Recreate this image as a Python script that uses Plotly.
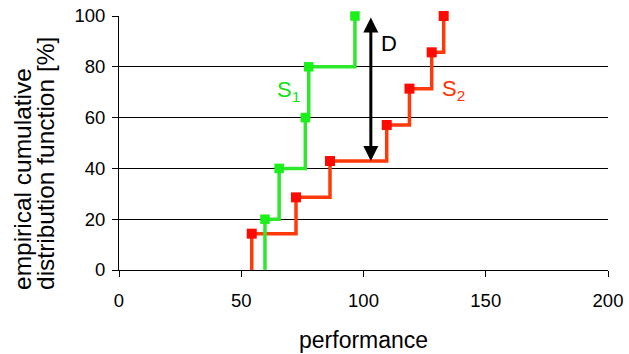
import plotly.graph_objects as go

# S1 sample (green)
s1_x = [59.7, 65.5, 76.2, 77.6, 96.5]
s1_f = [20, 40, 60, 80, 100]
# S2 sample (red)
s2_x = [54.3, 72.4, 86.3, 109.5, 118.8, 127.9, 132.8]
s2_f = [14.3, 28.6, 42.9, 57.1, 71.4, 85.7, 100]
# KS distance arrow
d_x = 103
d_top = 100
d_bottom = 42.9

x_ticks = [0, 50, 100, 150, 200]
y_ticks = [0, 20, 40, 60, 80, 100]

FONT = "Liberation Sans, Arial, sans-serif"
G_LINE = "#2EE82E"
G_MARK = "#1AF01A"
G_TEXT = "#11E011"
R_LINE = "#FF3A0A"
R_MARK = "#FF0A00"
R_TEXT = "#FF3300"

fig = go.Figure()

# step lines (ECDF), starting from 0
fig.add_trace(go.Scatter(x=[s2_x[0]] + s2_x, y=[0] + s2_f, mode="lines",
                         line=dict(color=R_LINE, width=3.5, shape="hv"),
                         showlegend=False, hoverinfo="skip", cliponaxis=False))
fig.add_trace(go.Scatter(x=[s1_x[0]] + s1_x, y=[0] + s1_f, mode="lines",
                         line=dict(color=G_LINE, width=3.5, shape="hv"),
                         showlegend=False, hoverinfo="skip", cliponaxis=False))
fig.add_trace(go.Scatter(x=s2_x, y=s2_f, mode="markers",
                         marker=dict(symbol="square", size=10, color=R_MARK),
                         showlegend=False, cliponaxis=False))
fig.add_trace(go.Scatter(x=s1_x, y=s1_f, mode="markers",
                         marker=dict(symbol="square", size=9.5, color=G_MARK),
                         showlegend=False, cliponaxis=False))

annotations = [
    # double-headed arrow D
    dict(x=d_x, y=d_bottom, ax=d_x, ay=d_top, xref="x", yref="y",
         axref="x", ayref="y", text="", showarrow=True, arrowhead=2,
         arrowside="end+start", arrowsize=1, arrowwidth=3, arrowcolor="black"),
    dict(x=106.3, y=89, xref="x", yref="y", text="D", showarrow=False,
         xanchor="left", yanchor="middle",
         font=dict(family=FONT, size=22, color="black")),
    dict(x=63.8, y=70.5, xref="x", yref="y", text="S<sub>1</sub>", showarrow=False,
         xanchor="left", yanchor="middle",
         font=dict(family=FONT, size=22, color=G_TEXT)),
    dict(x=131.3, y=71, xref="x", yref="y", text="S<sub>2</sub>", showarrow=False,
         xanchor="left", yanchor="middle",
         font=dict(family=FONT, size=22, color=R_TEXT)),
    # axis titles
    dict(x=0.5, y=0, xref="paper", yref="paper", yshift=-70, text="performance",
         showarrow=False, xanchor="center", yanchor="middle",
         font=dict(family=FONT, size=23, color="black")),
    dict(x=0, y=0, xref="paper", yref="paper", xshift=-97, yshift=-22,
         text="empirical cumulative", textangle=-90, showarrow=False,
         xanchor="center", yanchor="bottom",
         font=dict(family=FONT, size=24.5, color="black")),
    dict(x=0, y=0, xref="paper", yref="paper", xshift=-73.5, yshift=-22,
         text="distribution function [%]", textangle=-90, showarrow=False,
         xanchor="center", yanchor="bottom",
         font=dict(family=FONT, size=24.5, color="black")),
]

fig.update_layout(
    width=629, height=354,
    margin=dict(l=119, r=21, t=16, b=84, autoexpand=False),
    paper_bgcolor="white", plot_bgcolor="white",
    font=dict(family=FONT, size=18.5, color="black"),
    annotations=annotations,
    hovermode=False,
    xaxis=dict(range=[0, 200], tickvals=x_ticks, ticktext=[str(v) for v in x_ticks],
               showline=True, linecolor="black", linewidth=1, showgrid=False,
               zeroline=False, ticks="outside", ticklen=6, tickcolor="black",
               tickfont=dict(family=FONT, size=18.5, color="black"),
               ticklabelstandoff=8, automargin=False, ticklabeloverflow="allow"),
    yaxis=dict(range=[0, 100], tickvals=y_ticks, ticktext=[str(v) for v in y_ticks],
               showline=True, linecolor="black", linewidth=1, showgrid=True,
               gridcolor="black", gridwidth=1, zeroline=False, ticks="outside",
               ticklen=6, tickcolor="black",
               tickfont=dict(family=FONT, size=18.5, color="black"),
               ticklabelstandoff=3, automargin=False, ticklabeloverflow="allow"),
)

# remove the default 8px page margin so the figure fills the window exactly
fig.write_html("out.html",
               config={"displayModeBar": False, "staticPlot": True},
               post_script="document.body.style.margin='0';"
                           "document.body.style.overflow='hidden';")
